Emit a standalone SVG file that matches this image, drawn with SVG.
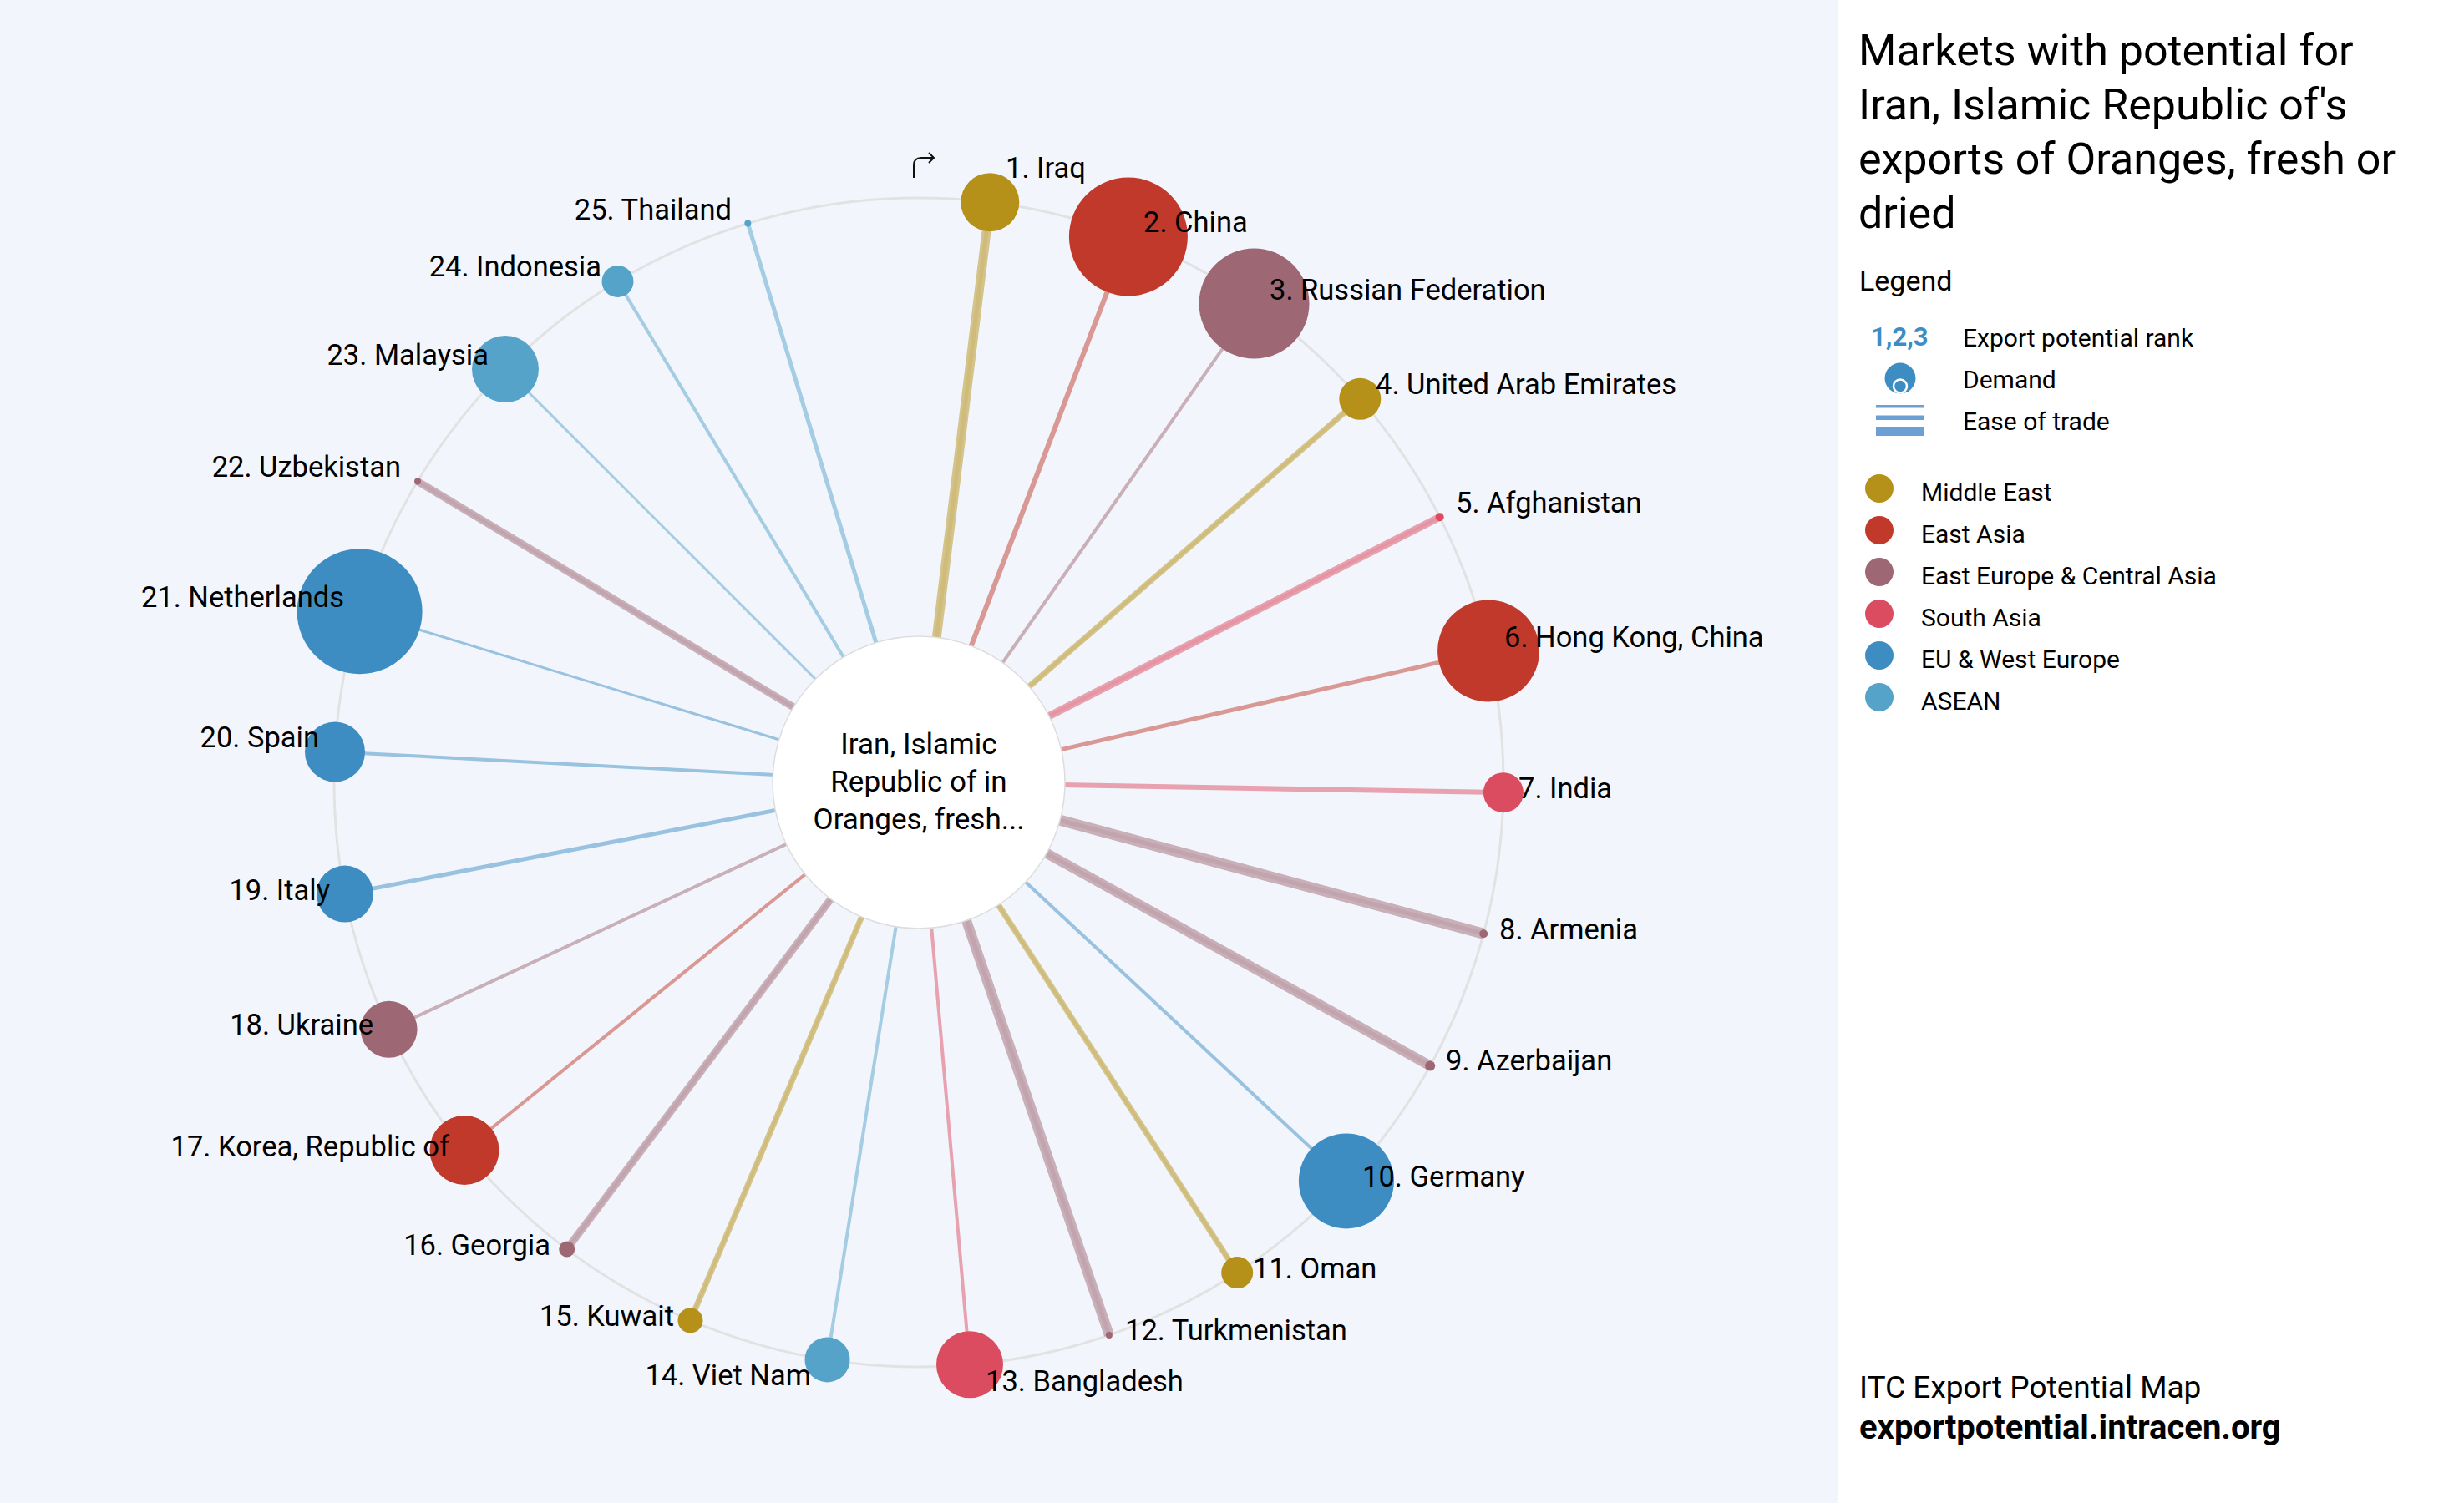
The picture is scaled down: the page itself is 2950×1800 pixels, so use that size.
<svg xmlns="http://www.w3.org/2000/svg" width="2950" height="1800" viewBox="0 0 2950 1800">
<style>
text{font-family:Roboto,"Liberation Sans",Arial,sans-serif;fill:#000}
.lbl{font-size:34.5px}
.e{text-anchor:end}
.ctr{font-size:35px;text-anchor:middle}
.c{stroke-linecap:butt;fill:none;stroke-opacity:0.5}
.ci{stroke-linecap:butt;fill:none;stroke-opacity:0.15}
.me{fill:#B5911A}.ea{fill:#C0392B}.ec{fill:#9D6873}.sa{fill:#DC4C61}.eu{fill:#3D8DC3}.as{fill:#56A3CA}
.lme{stroke:#B5911A}.lea{stroke:#C0392B}.lec{stroke:#9D6873}.lsa{stroke:#DC4C61}.leu{stroke:#3D8DC3}.las{stroke:#56A3CA}
.leg{font-size:30px}
</style>
<rect x="0" y="0" width="2950" height="1800" fill="#F2F6FC"/>
<rect x="2200" y="0" width="750" height="1800" fill="#FFFFFF"/>

<circle cx="1100" cy="937" r="700" fill="none" stroke="#E2E2E2" stroke-width="3"/>

<g id="connectors">
<line class="c lme" stroke-width="11" x1="1100" y1="937" x2="1185.3" y2="242.2"/><line class="ci lme" stroke-width="5" x1="1100" y1="937" x2="1185.3" y2="242.2"/>
<line class="c lea" stroke-width="6" x1="1100" y1="937" x2="1350.9" y2="283.5"/>
<line class="c lec" stroke-width="4" x1="1100" y1="937" x2="1501.5" y2="363.6"/>
<line class="c lme" stroke-width="7" x1="1100" y1="937" x2="1628.3" y2="477.8"/><line class="ci lme" stroke-width="3" x1="1100" y1="937" x2="1628.3" y2="477.8"/>
<line class="c lsa" stroke-width="9" x1="1100" y1="937" x2="1723.7" y2="619.2"/><line class="ci lsa" stroke-width="4" x1="1100" y1="937" x2="1723.7" y2="619.2"/>
<line class="c lea" stroke-width="5" x1="1100" y1="937" x2="1782.1" y2="779.5"/>
<line class="c lsa" stroke-width="6" x1="1100" y1="937" x2="1799.9" y2="949.2"/>
<line class="c lec" stroke-width="13" x1="1100" y1="937" x2="1776.2" y2="1118.2"/><line class="ci lec" stroke-width="5" x1="1100" y1="937" x2="1776.2" y2="1118.2"/>
<line class="c lec" stroke-width="12" x1="1100" y1="937" x2="1712.2" y2="1276.4"/><line class="ci lec" stroke-width="5" x1="1100" y1="937" x2="1712.2" y2="1276.4"/>
<line class="c leu" stroke-width="4" x1="1100" y1="937" x2="1611.9" y2="1414.4"/>
<line class="c lme" stroke-width="7" x1="1100" y1="937" x2="1481.2" y2="1524.1"/><line class="ci lme" stroke-width="3" x1="1100" y1="937" x2="1481.2" y2="1524.1"/>
<line class="c lec" stroke-width="12" x1="1100" y1="937" x2="1327.9" y2="1598.9"/><line class="ci lec" stroke-width="5" x1="1100" y1="937" x2="1327.9" y2="1598.9"/>
<line class="c lsa" stroke-width="4" x1="1100" y1="937" x2="1161.0" y2="1634.3"/>
<line class="c las" stroke-width="4" x1="1100" y1="937" x2="990.5" y2="1628.4"/>
<line class="c lme" stroke-width="7" x1="1100" y1="937" x2="826.5" y2="1581.4"/><line class="ci lme" stroke-width="3" x1="1100" y1="937" x2="826.5" y2="1581.4"/>
<line class="c lec" stroke-width="9" x1="1100" y1="937" x2="678.7" y2="1496.0"/><line class="ci lec" stroke-width="4" x1="1100" y1="937" x2="678.7" y2="1496.0"/>
<line class="c lea" stroke-width="4" x1="1100" y1="937" x2="556.0" y2="1377.5"/>
<line class="c lec" stroke-width="4" x1="1100" y1="937" x2="465.6" y2="1232.8"/>
<line class="c leu" stroke-width="5" x1="1100" y1="937" x2="412.9" y2="1070.6"/>
<line class="c leu" stroke-width="4" x1="1100" y1="937" x2="401.0" y2="900.4"/>
<line class="c leu" stroke-width="3" x1="1100" y1="937" x2="430.6" y2="732.3"/>
<line class="c lec" stroke-width="9" x1="1100" y1="937" x2="500.0" y2="576.5"/><line class="ci lec" stroke-width="4" x1="1100" y1="937" x2="500.0" y2="576.5"/>
<line class="c las" stroke-width="3" x1="1100" y1="937" x2="605.0" y2="442.0"/>
<line class="c las" stroke-width="4" x1="1100" y1="937" x2="739.5" y2="337.0"/>
<line class="c las" stroke-width="5" x1="1100" y1="937" x2="895.3" y2="267.6"/>
</g>

<g id="center">
<circle cx="1100" cy="937" r="175" fill="#FFFFFF" stroke="#DDDDDD" stroke-width="1.5"/>
<text class="ctr" x="1100" y="903">Iran, Islamic</text>
<text class="ctr" x="1100" y="948">Republic of in</text>
<text class="ctr" x="1100" y="993">Oranges, fresh...</text>
</g>

<g id="n1"><circle class="me" cx="1185.3" cy="242.2" r="35"/><text class="lbl" x="1204" y="213">1. Iraq</text></g>
<g id="n2"><circle class="ea" cx="1350.9" cy="283.5" r="71"/><text class="lbl" x="1369" y="278">2. China</text></g>
<g id="n3"><circle class="ec" cx="1501.5" cy="363.6" r="66"/><text class="lbl" x="1520" y="359">3. Russian Federation</text></g>
<g id="n4"><circle class="me" cx="1628.3" cy="477.8" r="25"/><text class="lbl" x="1647" y="472">4. United Arab Emirates</text></g>
<g id="n5"><circle class="sa" cx="1723.7" cy="619.2" r="5"/><text class="lbl" x="1743" y="614">5. Afghanistan</text></g>
<g id="n6"><circle class="ea" cx="1782.1" cy="779.5" r="61"/><text class="lbl" x="1801" y="775">6. Hong Kong, China</text></g>
<g id="n7"><circle class="sa" cx="1799.9" cy="949.2" r="24"/><text class="lbl" x="1818" y="956">7. India</text></g>
<g id="n8"><circle class="ec" cx="1776.2" cy="1118.2" r="5"/><text class="lbl" x="1795" y="1125">8. Armenia</text></g>
<g id="n9"><circle class="ec" cx="1712.2" cy="1276.4" r="6"/><text class="lbl" x="1731" y="1282">9. Azerbaijan</text></g>
<g id="n10"><circle class="eu" cx="1611.9" cy="1414.4" r="57"/><text class="lbl" x="1631" y="1421">10. Germany</text></g>
<g id="n11"><circle class="me" cx="1481.2" cy="1524.1" r="19"/><text class="lbl" x="1500" y="1531">11. Oman</text></g>
<g id="n12"><circle class="ec" cx="1327.9" cy="1598.9" r="4"/><text class="lbl" x="1347" y="1605">12. Turkmenistan</text></g>
<g id="n13"><circle class="sa" cx="1161.0" cy="1634.3" r="40"/><text class="lbl" x="1180" y="1666">13. Bangladesh</text></g>
<g id="n14"><circle class="as" cx="990.5" cy="1628.4" r="27"/><text class="lbl e" x="971" y="1659">14. Viet Nam</text></g>
<g id="n15"><circle class="me" cx="826.5" cy="1581.4" r="15"/><text class="lbl e" x="807" y="1588">15. Kuwait</text></g>
<g id="n16"><circle class="ec" cx="678.7" cy="1496.0" r="9.5"/><text class="lbl e" x="659" y="1503">16. Georgia</text></g>
<g id="n17"><circle class="ea" cx="556.0" cy="1377.5" r="41.5"/><text class="lbl e" x="538" y="1385">17. Korea, Republic of</text></g>
<g id="n18"><circle class="ec" cx="465.6" cy="1232.8" r="34"/><text class="lbl e" x="447" y="1239">18. Ukraine</text></g>
<g id="n19"><circle class="eu" cx="412.9" cy="1070.6" r="34"/><text class="lbl e" x="395" y="1078">19. Italy</text></g>
<g id="n20"><circle class="eu" cx="401.0" cy="900.4" r="36"/><text class="lbl e" x="382" y="895">20. Spain</text></g>
<g id="n21"><circle class="eu" cx="430.6" cy="732.3" r="75"/><text class="lbl e" x="412" y="727">21. Netherlands</text></g>
<g id="n22"><circle class="ec" cx="500.0" cy="576.5" r="4"/><text class="lbl e" x="480" y="571">22. Uzbekistan</text></g>
<g id="n23"><circle class="as" cx="605.0" cy="442.0" r="40"/><text class="lbl e" x="585" y="437">23. Malaysia</text></g>
<g id="n24"><circle class="as" cx="739.5" cy="337.0" r="19"/><text class="lbl e" x="720" y="331">24. Indonesia</text></g>
<g id="n25"><circle class="as" cx="895.3" cy="267.6" r="4"/><text class="lbl e" x="876" y="263">25. Thailand</text></g>

<g id="rotate-icon" fill="none" stroke="#111" stroke-width="2">
<path d="M1094,213 L1094,198 Q1094,189 1103,189 L1118,189"/>
<path d="M1112,183 L1118,189 L1112,195"/>
</g>

<g id="title">
<text x="2225" y="78" font-size="52">Markets with potential for</text>
<text x="2225" y="143" font-size="52">Iran, Islamic Republic of's</text>
<text x="2225" y="208" font-size="52">exports of Oranges, fresh or</text>
<text x="2225" y="273" font-size="52">dried</text>
</g>

<g id="legend">
<text x="2226" y="348" font-size="34">Legend</text>
<text x="2240" y="414" font-size="31" font-weight="bold" style="fill:#3D8DC3">1,2,3</text>
<text class="leg" x="2350" y="415">Export potential rank</text>
<circle cx="2275" cy="453" r="18.5" fill="#3D8DC3"/>
<circle cx="2275" cy="462.5" r="8" fill="#3D8DC3" stroke="#FFFFFF" stroke-width="2.5"/>
<text class="leg" x="2350" y="465">Demand</text>
<rect x="2246" y="485" width="57" height="3.5" fill="#6C9FD4"/>
<rect x="2246" y="497.5" width="57" height="5.5" fill="#6C9FD4"/>
<rect x="2246" y="511" width="57" height="11" fill="#6C9FD4"/>
<text class="leg" x="2350" y="515">Ease of trade</text>
<circle class="me" cx="2250" cy="585" r="17"/><text class="leg" x="2300" y="600">Middle East</text>
<circle class="ea" cx="2250" cy="635" r="17"/><text class="leg" x="2300" y="650">East Asia</text>
<circle class="ec" cx="2250" cy="685" r="17"/><text class="leg" x="2300" y="700">East Europe &amp; Central Asia</text>
<circle class="sa" cx="2250" cy="735" r="17"/><text class="leg" x="2300" y="750">South Asia</text>
<circle class="eu" cx="2250" cy="785" r="17"/><text class="leg" x="2300" y="800">EU &amp; West Europe</text>
<circle class="as" cx="2250" cy="835" r="17"/><text class="leg" x="2300" y="850">ASEAN</text>
</g>

<g id="footer">
<text x="2226" y="1674" font-size="37">ITC Export Potential Map</text>
<text x="2226" y="1723" font-size="40" font-weight="bold">exportpotential.intracen.org</text>
</g>
</svg>
